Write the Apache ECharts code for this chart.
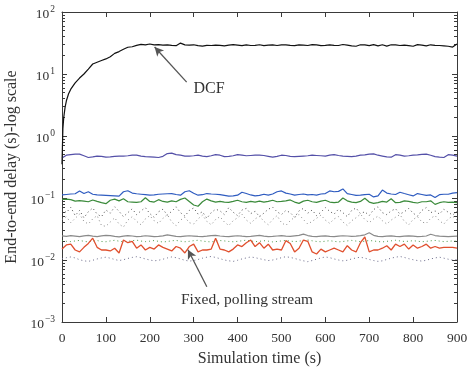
<!DOCTYPE html>
<html>
<head>
<meta charset="utf-8">
<script src="https://cdn.jsdelivr.net/npm/echarts@6/dist/echarts.min.js"></script>
<style>html,body{margin:0;padding:0;background:#fff}#c{width:469px;height:368px}</style>
</head>
<body>
<div id="c"></div>
<script>
// sample times (s)
const times = [];
for (let t = 0; t <= 900; t += 10) times.push(t);

const xTicks = [0, 100, 200, 300, 400, 500, 600, 700, 800, 900];
const yDecades = [0.001, 0.01, 0.1, 1, 10, 100];

// DCF (black) — denser early samples
const dcfTimes = [0, 2, 4, 7, 10, 15, 20].concat(times.slice(3));
const dcfDelay = [
  0.35, 1.3, 2.0, 2.9, 3.7, 4.8, 5.7,
  7.2, 8.6, 10.0, 12.0, 14.5, 15.5, 16.5,
  17.5, 19.0, 21.5, 23.0, 25.0, 27.0, 27.5, 29.0, 30.0, 29.5,
  30.5, 29.5, 29.8, 29.3, 29.6, 29.0, 28.6, 31.5, 29.5, 29.2,
  29.6, 28.6, 28.2, 29.0, 28.8, 29.2, 29.0, 28.5, 29.2, 29.7,
  29.2, 28.6, 29.4, 28.8, 28.9, 29.6, 28.6, 29.2, 29.4, 28.8,
  29.5, 29.6, 29.0, 28.6, 29.5, 29.3, 28.8, 29.8, 29.4, 28.6,
  29.0, 29.6, 29.0, 28.8, 29.9, 29.3, 28.5, 28.0, 29.6, 29.4,
  28.6, 29.8, 28.4, 29.6, 28.2, 29.6, 29.4, 28.8, 29.2, 28.6,
  28.0, 29.8, 29.3, 28.5, 29.6, 29.0, 28.8, 28.5, 28.0, 27.2,
  30.5
];

const purple = [
  0.44,0.49,0.50,0.51,0.51,0.48,0.45,0.46,0.475,0.47,
  0.455,0.46,0.47,0.475,0.475,0.48,0.49,0.49,0.475,0.465,
  0.46,0.455,0.45,0.47,0.52,0.53,0.5,0.49,0.475,0.475,
  0.48,0.49,0.475,0.465,0.48,0.5,0.49,0.465,0.47,0.48,
  0.5,0.49,0.48,0.485,0.49,0.49,0.485,0.47,0.455,0.47,
  0.49,0.485,0.47,0.465,0.47,0.475,0.48,0.49,0.485,0.48,
  0.475,0.49,0.5,0.485,0.475,0.47,0.465,0.475,0.49,0.495,
  0.51,0.515,0.49,0.475,0.46,0.455,0.5,0.49,0.475,0.48,
  0.49,0.495,0.505,0.51,0.49,0.465,0.455,0.45,0.5,0.49,
  0.475
];

const blue = [
  0.112,0.114,0.116,0.117,0.13,0.118,0.126,0.115,0.112,0.111,
  0.11,0.109,0.108,0.107,0.126,0.131,0.12,0.117,0.115,0.113,
  0.111,0.112,0.115,0.116,0.117,0.118,0.114,0.111,0.126,0.131,
  0.119,0.111,0.113,0.118,0.116,0.115,0.113,0.11,0.107,0.108,
  0.111,0.124,0.118,0.112,0.108,0.11,0.115,0.111,0.116,0.126,
  0.13,0.12,0.116,0.111,0.114,0.116,0.112,0.114,0.111,0.116,
  0.118,0.13,0.126,0.128,0.14,0.118,0.114,0.11,0.111,0.113,
  0.115,0.104,0.108,0.134,0.12,0.116,0.114,0.124,0.118,0.113,
  0.108,0.118,0.114,0.11,0.112,0.102,0.113,0.115,0.115,0.12,
  0.122
];

const green = [
  0.095,0.096,0.094,0.089,0.091,0.089,0.087,0.093,0.088,0.084,
  0.081,0.092,0.096,0.09,0.097,0.087,0.086,0.085,0.087,0.101,
  0.088,0.086,0.094,0.088,0.086,0.09,0.087,0.095,0.1,0.088,
  0.077,0.0735,0.087,0.096,0.09,0.086,0.088,0.086,0.085,0.088,
  0.092,0.087,0.085,0.088,0.086,0.089,0.086,0.088,0.092,0.087,
  0.088,0.09,0.093,0.086,0.082,0.089,0.092,0.087,0.085,0.089,
  0.092,0.086,0.084,0.086,0.1,0.09,0.086,0.084,0.088,0.099,
  0.086,0.082,0.084,0.088,0.086,0.097,0.084,0.085,0.09,0.088,
  0.085,0.083,0.087,0.087,0.09,0.079,0.084,0.087,0.085,0.086,
  0.084
];

const dottedDark = [
  0.066,0.058,0.071,0.052,0.063,0.048,0.06,0.069,0.055,0.05,
  0.064,0.057,0.072,0.061,0.05,0.058,0.067,0.054,0.062,0.07,
  0.056,0.049,0.06,0.066,0.053,0.061,0.072,0.058,0.051,0.063,
  0.069,0.055,0.06,0.047,0.058,0.066,0.062,0.054,0.07,0.059,
  0.052,0.064,0.068,0.056,0.061,0.05,0.057,0.066,0.071,0.06,
  0.054,0.063,0.058,0.049,0.062,0.068,0.057,0.064,0.052,0.059,
  0.07,0.061,0.055,0.066,0.058,0.05,0.063,0.069,0.056,0.06,
  0.052,0.065,0.072,0.058,0.054,0.062,0.067,0.055,0.06,0.068,
  0.057,0.051,0.063,0.07,0.058,0.062,0.055,0.066,0.059,0.053,
  0.061
];

const dottedGray = [
  0.045,0.05,0.04,0.047,0.055,0.042,0.038,0.046,0.052,0.036,
  0.035,0.041,0.048,0.038,0.034,0.044,0.05,0.042,0.037,0.046,
  0.052,0.043,0.039,0.047,0.054,0.041,0.036,0.044,0.049,0.04,
  0.038,0.046,0.053,0.042,0.037,0.045,0.05,0.041,0.036,0.043,
  0.048,0.055,0.044,0.039,0.046,0.051,0.042,0.037,0.045,0.052,
  0.04,0.036,0.043,0.049,0.054,0.045,0.038,0.042,0.047,0.053,
  0.044,0.039,0.046,0.05,0.041,0.036,0.043,0.048,0.055,0.045,
  0.04,0.046,0.051,0.043,0.038,0.044,0.049,0.054,0.042,0.037,
  0.045,0.05,0.041,0.039,0.047,0.052,0.043,0.038,0.046,0.051,
  0.044
];

const graySolid = [
  0.0245,0.024,0.0248,0.0243,0.0238,0.0245,0.025,0.0242,0.0238,0.0245,
  0.025,0.0247,0.024,0.0236,0.0242,0.0248,0.0244,0.0239,0.0241,0.0246,
  0.0243,0.0238,0.024,0.0245,0.0255,0.0248,0.0241,0.0238,0.0242,0.0246,
  0.0243,0.024,0.0238,0.0242,0.0247,0.025,0.0244,0.024,0.0238,0.0243,
  0.0246,0.0242,0.0239,0.0241,0.0245,0.0249,0.0243,0.0238,0.024,0.0244,
  0.0247,0.0243,0.024,0.0245,0.025,0.0262,0.0248,0.0241,0.0239,0.0243,
  0.0245,0.0241,0.0238,0.0242,0.0246,0.0244,0.024,0.0243,0.0248,0.0255,
  0.0275,0.025,0.024,0.0238,0.0242,0.0245,0.0241,0.0239,0.0243,0.0245,
  0.0242,0.0239,0.0241,0.0244,0.026,0.0248,0.0242,0.024,0.0238,0.024,
  0.0242
];

const greenDotted = [
  0.0205,0.02,0.0198,0.0203,0.0207,0.02,0.0196,0.0202,0.0206,0.0199,
  0.0197,0.0203,0.0208,0.0201,0.0197,0.02,0.0205,0.0209,0.0202,0.0198,
  0.0201,0.0206,0.02,0.0195,0.0199,0.0204,0.0207,0.0201,0.0197,0.02,
  0.0205,0.0208,0.0202,0.0198,0.0196,0.0201,0.0206,0.0203,0.0199,0.0197,
  0.02,0.0204,0.0209,0.0203,0.0198,0.02,0.0205,0.0201,0.0196,0.0199,
  0.0203,0.0207,0.0202,0.0198,0.0201,0.0206,0.021,0.0204,0.0199,0.0197,
  0.0201,0.0205,0.02,0.0196,0.0199,0.0203,0.0207,0.0202,0.0198,0.0201,
  0.0206,0.0203,0.0198,0.0196,0.02,0.0204,0.0208,0.0203,0.0199,0.0201,
  0.0205,0.0201,0.0197,0.02,0.0204,0.0207,0.0202,0.0198,0.02,0.0203,
  0.0201
];

const red = [
  0.015,0.0175,0.018,0.0145,0.0135,0.016,0.0185,0.0225,0.016,0.0145,
  0.0145,0.014,0.0155,0.013,0.021,0.019,0.02,0.0155,0.0175,0.0145,
  0.016,0.015,0.0175,0.016,0.015,0.014,0.0165,0.0155,0.013,0.0165,
  0.018,0.0135,0.0145,0.0145,0.015,0.0225,0.015,0.0145,0.0135,0.015,
  0.0175,0.0165,0.019,0.021,0.0165,0.019,0.0155,0.018,0.0145,0.015,
  0.0145,0.0205,0.0185,0.0135,0.0155,0.021,0.02,0.0135,0.0125,0.015,
  0.0135,0.0145,0.0155,0.0145,0.0135,0.017,0.0145,0.0135,0.019,0.0235,
  0.0135,0.0145,0.0145,0.0155,0.017,0.0145,0.018,0.0165,0.018,0.015,
  0.0175,0.0155,0.0165,0.018,0.0155,0.0165,0.0155,0.016,0.016,0.016,
  0.0155
];

const lowDotted = [
  0.0105,0.0109,0.0112,0.0108,0.0101,0.0097,0.0095,0.0099,0.0104,0.0108,
  0.0111,0.0107,0.0102,0.0098,0.0101,0.0106,0.011,0.0113,0.0109,0.0104,
  0.01,0.0097,0.0099,0.0103,0.0108,0.0112,0.0109,0.0104,0.0099,0.0096,
  0.0098,0.0102,0.0107,0.0111,0.0114,0.011,0.0105,0.01,0.0097,0.0095,
  0.0099,0.0104,0.0108,0.0112,0.0109,0.0105,0.0101,0.0098,0.01,0.0104,
  0.0109,0.0113,0.011,0.0106,0.0101,0.0097,0.0094,0.0098,0.0103,0.0108,
  0.0112,0.0109,0.0104,0.01,0.0097,0.0099,0.0104,0.0108,0.0111,0.0107,
  0.0102,0.0098,0.0095,0.0097,0.0102,0.0107,0.0111,0.0114,0.011,0.0105,
  0.0101,0.0098,0.0096,0.0099,0.0104,0.0108,0.0111,0.0107,0.0103,0.01,
  0.0102
];

// annotation arrow endpoints [time, delay]
const dcfArrow = [[284, 7.4], [211, 27.2]];
const fixedArrow = [[330, 0.0037], [287, 0.0146]];

const minorTicks = [];
for (let e = -3; e < 2; e++) for (let m = 2; m <= 9; m++) minorTicks.push(+(m * Math.pow(10, e)).toPrecision(3));

const FONT = '"Liberation Serif", "DejaVu Serif", serif';
const pairs = (ts, vs) => ts.map((t, i) => [t, vs[i]]);
const sup = { '-3': '\u22123', '-2': '\u22122', '-1': '\u22121', '0': '0', '1': '1', '2': '2' };
const DOTS = [1, 3];

function lineSeries(name, data, color, type, width, z) {
  return {
    name, type: 'line', data, showSymbol: false, symbol: 'none', z: z || 2,
    lineStyle: { color, width: width || 1, type: type || 'solid' },
    animation: false
  };
}

const chart = echarts.init(document.getElementById('c'));
const axisLineStyle = { color: '#3a3a3a', width: 1 };
const yBase = { type: 'log', logBase: 10, min: 0.001, max: 100, splitLine: { show: false } };

chart.setOption({
  animation: false,
  backgroundColor: '#fff',
  grid: { left: 62, right: 12, top: 12, bottom: 46, outerBoundsMode: 'none' },
  xAxis: [
    {
      type: 'value', min: 0, max: 900, interval: 100, position: 'bottom',
      name: 'Simulation time (s)', nameLocation: 'middle', nameGap: 29,
      nameTextStyle: { fontFamily: FONT, fontSize: 16, color: '#333' },
      axisLine: { lineStyle: axisLineStyle },
      axisTick: { inside: true, length: 5, lineStyle: axisLineStyle, customValues: xTicks },
      axisLabel: { fontFamily: FONT, fontSize: 13.5, color: '#333', margin: 9, customValues: xTicks },
      splitLine: { show: false }
    },
    {
      type: 'value', min: 0, max: 900, interval: 100, position: 'top',
      axisLine: { lineStyle: axisLineStyle },
      axisTick: { inside: true, length: 5, lineStyle: axisLineStyle, customValues: xTicks },
      axisLabel: { show: false }, splitLine: { show: false }
    }
  ],
  yAxis: [
    Object.assign({}, yBase, {
      position: 'left',
      name: 'End-to-end delay (s)-log scale', nameLocation: 'middle', nameGap: 42,
      nameTextStyle: { fontFamily: FONT, fontSize: 16, color: '#333' },
      axisLine: { lineStyle: axisLineStyle },
      axisTick: { inside: true, length: 5, lineStyle: axisLineStyle, customValues: yDecades },
      axisLabel: {
        customValues: yDecades, margin: 7,
        formatter: v => '{b|10}{s|' + sup[String(Math.round(Math.log10(v)))] + '}',
        rich: {
          b: { fontFamily: FONT, fontSize: 13.5, color: '#333', lineHeight: 18, verticalAlign: 'bottom' },
          s: { fontFamily: FONT, fontSize: 9.5, color: '#333', lineHeight: 18, verticalAlign: 'top', padding: [1, 0, 0, 1] }
        }
      }
    }),
    Object.assign({}, yBase, {
      position: 'left', axisLine: { show: false },
      axisTick: { inside: true, length: 3, lineStyle: axisLineStyle, customValues: minorTicks },
      axisLabel: { show: false }
    }),
    Object.assign({}, yBase, {
      position: 'right', axisLine: { lineStyle: axisLineStyle },
      axisTick: { inside: true, length: 5, lineStyle: axisLineStyle, customValues: yDecades },
      axisLabel: { show: false }
    }),
    Object.assign({}, yBase, {
      position: 'right', axisLine: { show: false },
      axisTick: { inside: true, length: 3, lineStyle: axisLineStyle, customValues: minorTicks },
      axisLabel: { show: false }
    })
  ],
  series: [
    lineSeries('dotted dark', pairs(times, dottedDark), '#4a4a4a', DOTS, 1, 1),
    lineSeries('dotted gray', pairs(times, dottedGray), '#8a8a8a', DOTS, 1, 1),
    lineSeries('green dotted', pairs(times, greenDotted), '#4a9a4a', DOTS, 1, 1),
    lineSeries('low dotted', pairs(times, lowDotted), '#6a6a8a', DOTS, 1, 1),
    lineSeries('gray', pairs(times, graySolid), '#8a8a8a', 'solid', 1.2, 2),
    lineSeries('green', pairs(times, green), '#3a8a3a', 'solid', 1.2, 2),
    lineSeries('blue', pairs(times, blue), '#2f5cc0', 'solid', 1.2, 2),
    lineSeries('purple', pairs(times, purple), '#5450a8', 'solid', 1.2, 2),
    Object.assign(lineSeries('Fixed, polling stream', pairs(times, red), '#e0502e', 'solid', 1.3, 3), {
      markLine: {
        silent: true, symbol: ['none', 'arrow'], symbolSize: [7, 9], animation: false,
        label: { show: false },
        lineStyle: { color: '#555', width: 1.3, type: 'solid' },
        data: [[{ coord: fixedArrow[0] }, { coord: fixedArrow[1] }]]
      }
    }),
    Object.assign(lineSeries('DCF', pairs(dcfTimes, dcfDelay), '#111', 'solid', 1.2, 3), {
      markLine: {
        silent: true, symbol: ['none', 'arrow'], symbolSize: [7, 9], animation: false,
        label: { show: false },
        lineStyle: { color: '#555', width: 1.3, type: 'solid' },
        data: [[{ coord: dcfArrow[0] }, { coord: dcfArrow[1] }]]
      }
    })
  ],
  graphic: [
    { type: 'text', x: 209, y: 89, style: { text: 'DCF', fontFamily: FONT, fontSize: 16, fill: '#333', align: 'center', verticalAlign: 'middle' } },
    { type: 'text', x: 247, y: 300, style: { text: 'Fixed, polling stream', fontFamily: FONT, fontSize: 15.5, fill: '#333', align: 'center', verticalAlign: 'middle' } }
  ]
});
</script>
</body>
</html>
